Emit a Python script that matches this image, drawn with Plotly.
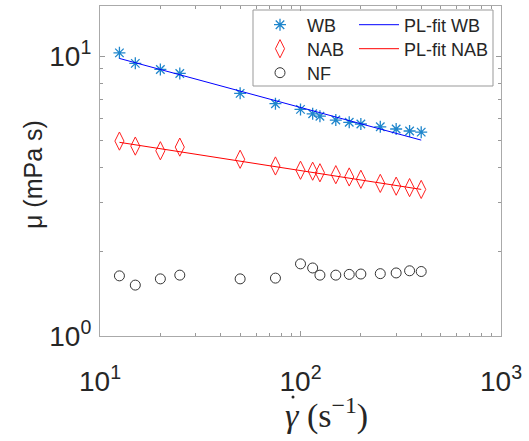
import plotly.graph_objects as go
import math

# ---- data ----
shear = [12.5, 15, 20, 25, 50, 75, 100, 115, 125, 150, 175, 200, 250, 300, 350, 400]
mu_wb = [10.27, 9.42, 8.96, 8.67, 7.36, 6.76, 6.45, 6.22, 6.10, 5.91, 5.80, 5.72, 5.59, 5.49, 5.40, 5.35]
mu_nab = [4.97, 4.77, 4.59, 4.73, 4.28, 4.05, 3.91, 3.88, 3.83, 3.77, 3.70, 3.63, 3.51, 3.43, 3.39, 3.34]
mu_nf = [1.64, 1.52, 1.60, 1.65, 1.60, 1.61, 1.81, 1.75, 1.65, 1.65, 1.66, 1.665, 1.67, 1.68, 1.71, 1.70]

fit_x = [12.5, 400]
fit_wb = [9.81, 5.01]
fit_nab = [4.92, 3.34]

x_ticks = [10, 100, 1000]
x_ticktext = ["10<sup>1</sup>", "10<sup>2</sup>", "10<sup>3</sup>"]
y_ticks = [1, 10]
y_ticktext = ["10<sup>0</sup>", "10<sup>1</sup>"]
x_minor = [2, 3, 4, 5, 6, 7, 8, 9, 20, 30, 40, 50, 60, 70, 80, 90,
           200, 300, 400, 500, 600, 700, 800, 900]
y_minor = [2, 3, 4, 5, 6, 7, 8, 9]

SANS = "Liberation Sans, Arial, sans-serif"
SERIF = "Liberation Serif, Times New Roman, serif"

W, H = 529, 441
L, R, T, B = 100, 28, 6, 105
pw, ph = W - L - R, H - T - B

def px2x(p):
    return (p - L) / pw

def px2y(p):
    return (H - B - p) / ph

fig = go.Figure()
fig.add_trace(go.Scatter(x=shear, y=mu_wb, mode="markers", name="WB",
                         marker=dict(symbol="asterisk-open", size=10,
                                     color="#1f86cc",
                                     line=dict(color="#1f86cc", width=1.3)),
                         legend="legend"))
fig.add_trace(go.Scatter(x=shear, y=mu_nab, mode="markers", name="NAB",
                         marker=dict(symbol="diamond-tall-open", size=13,
                                     color="#FF2020",
                                     line=dict(color="#FF2020", width=1)),
                         legend="legend3"))
fig.add_trace(go.Scatter(x=shear, y=mu_nf, mode="markers", name="NF",
                         marker=dict(symbol="circle-open", size=10,
                                     color="#333333",
                                     line=dict(color="#333333", width=1)),
                         legend="legend5"))
fig.add_trace(go.Scatter(x=fit_x, y=fit_wb, mode="lines", name="PL-fit WB",
                         line=dict(color="#0000FF", width=1),
                         legend="legend2"))
fig.add_trace(go.Scatter(x=fit_x, y=fit_nab, mode="lines", name="PL-fit NAB",
                         line=dict(color="#FF0000", width=1),
                         legend="legend4"))

axis_common = dict(
    type="log", showgrid=False, zeroline=False,
    showline=True, linecolor="#aaaaaa", linewidth=1.2, mirror="ticks",
    ticks="inside", ticklen=5, tickcolor="#999999", tickwidth=1,
    tickfont=dict(family=SANS, size=28, color="#262626"),
)

fig.update_xaxes(range=[1, 3], tickvals=x_ticks, ticktext=x_ticktext,
                 ticklabelstandoff=20,
                 minor=dict(tickvals=x_minor, ticks="inside", ticklen=3,
                            tickcolor="#999999"),
                 **axis_common)
fig.update_yaxes(range=[0, math.log10(15.1)], tickvals=y_ticks, ticktext=y_ticktext,
                 ticklabelstandoff=2,
                 minor=dict(tickvals=y_minor, ticks="inside", ticklen=3,
                            tickcolor="#999999"),
                 **axis_common)

def leg(xpx, ypx, iw):
    return dict(x=px2x(xpx), y=px2y(ypx), xanchor="left", yanchor="middle",
                bgcolor="rgba(0,0,0,0)", borderwidth=0,
                font=dict(family=SANS, size=18, color="#262626"),
                tracegroupgap=0, itemwidth=iw)

ROW = [25, 49, 73]
fig.update_layout(
    width=W, height=H,
    margin=dict(l=L, r=R, t=T, b=B),
    paper_bgcolor="white", plot_bgcolor="white",
    showlegend=True,
    legend=leg(253, ROW[0], 44),
    legend3=leg(253, ROW[1], 44),
    legend5=leg(253, ROW[2], 44),
    legend2=leg(354, ROW[0], 40),
    legend4=leg(354, ROW[1], 40),
    shapes=[
        dict(type="rect", xref="paper", yref="paper",
             x0=px2x(253), x1=px2x(493), y0=px2y(86), y1=px2y(10),
             line=dict(color="#999999", width=1), fillcolor="white",
             layer="below"),
        # dot accent of the x-axis symbol
        dict(type="circle", xref="paper", yref="paper",
             x0=px2x(291.5), x1=px2x(294.5), y0=px2y(398.5), y1=px2y(395.5),
             line=dict(width=0), fillcolor="#262626"),
    ],
    annotations=[
        dict(text="<i>γ</i> (s<sup>−1</sup>)", xref="paper", yref="paper",
             x=px2x(326), y=px2y(413), xanchor="center", yanchor="middle",
             showarrow=False,
             font=dict(family=SERIF, size=34, color="#262626")),
        dict(text="μ (mPa s)", xref="paper", yref="paper",
             x=px2x(33), y=px2y(175), xanchor="center", yanchor="middle",
             textangle=-90, showarrow=False,
             font=dict(family=SANS, size=25, color="#262626")),
    ],
)

fig.write_html("out.html")
